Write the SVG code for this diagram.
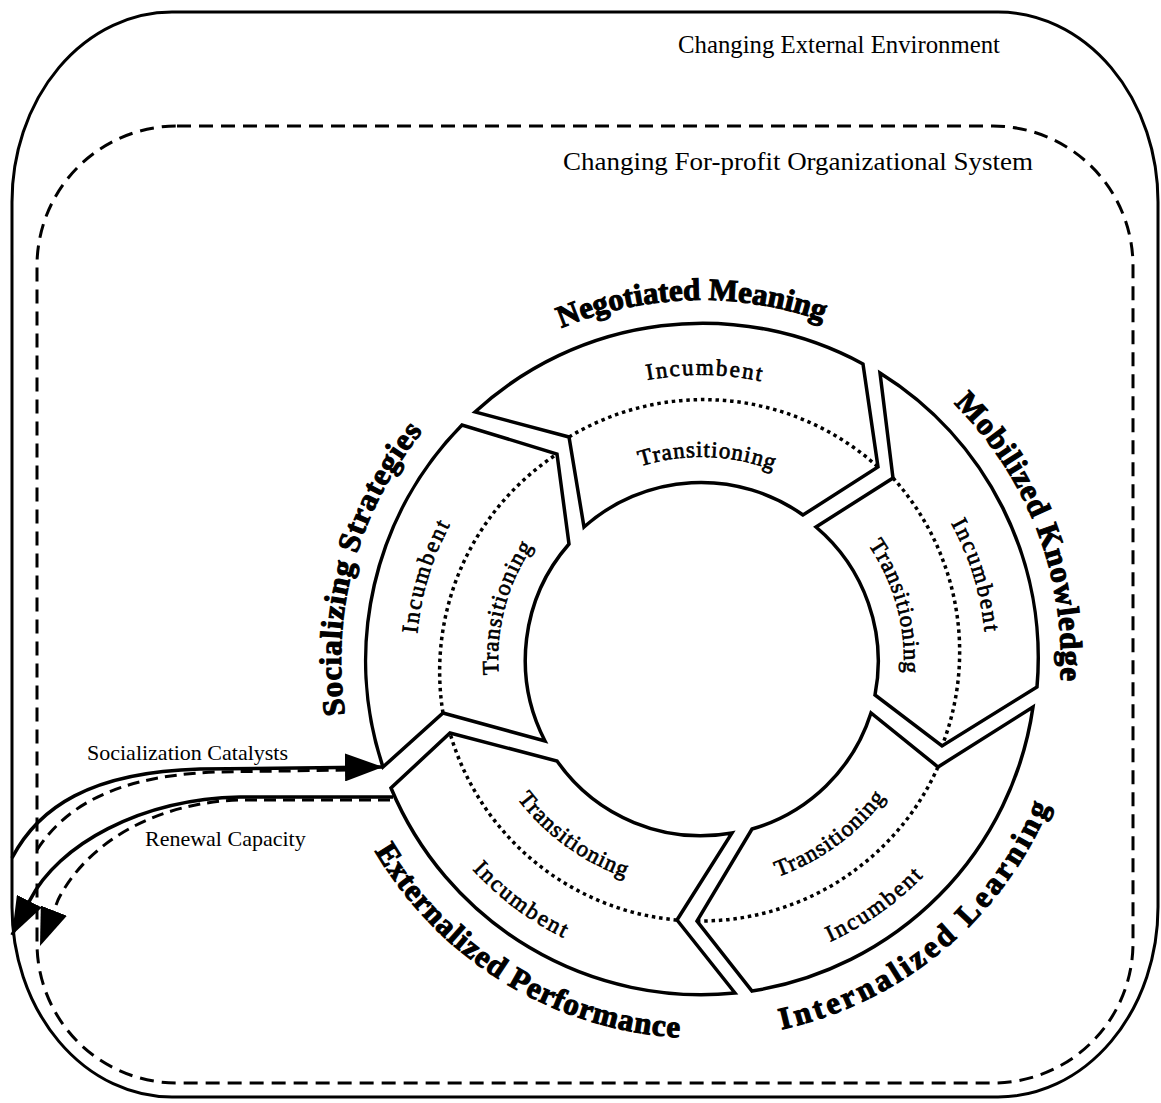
<svg xmlns="http://www.w3.org/2000/svg" width="1161" height="1103" viewBox="0 0 1161 1103">
  <defs>
    <style>
      .frame { fill: none; stroke: #000; stroke-width: 3; }
      .frame-dash { fill: none; stroke: #000; stroke-width: 3; stroke-dasharray: 14 8; }
      .segment { fill: #fff; stroke: #000; stroke-width: 3.5; stroke-linejoin: miter; }
      .divider { fill: none; stroke: #000; stroke-width: 3.5; stroke-dasharray: 3.5 3.8; }
      .flow { fill: none; stroke: #000; stroke-width: 3.5; }
      .flow-dash { fill: none; stroke: #000; stroke-width: 3; stroke-dasharray: 12 7; }
      .caption { font-family: "Liberation Serif", "Times New Roman", serif; fill: #000; }
      .frame-label { font-size: 26px; }
      .flow-label { font-size: 22px; }
      .ring-label { font-family: "Liberation Serif", "Times New Roman", serif; font-weight: bold; font-size: 31px; fill: #000; stroke: #000; stroke-width: 1.1; text-anchor: middle; }
      .band-label { font-family: "Liberation Serif", "Times New Roman", serif; font-size: 23px; fill: #000; stroke: #000; stroke-width: 0.7; text-anchor: middle; }
      .inc { letter-spacing: 2px; }
      .trn { letter-spacing: 1px; }
    </style>
    <marker id="arrowhead" markerUnits="userSpaceOnUse" viewBox="0 0 38 28" refX="38" refY="14" markerWidth="38" markerHeight="28" orient="auto">
      <path d="M0,0 L38,14 L0,28 Z" fill="#000"/>
    </marker>
    <!-- baseline circles around the ring centre (701,660) -->
    <path id="ringCw" d="M701,1020 A360,360 0 1 1 701,300 A360,360 0 1 1 701,1020"/>
    <path id="ringCcw" d="M701,282 A378,378 0 1 0 701,1038 A378,378 0 1 0 701,282"/>
    <path id="incCw" d="M701,945 A285,285 0 1 1 701,375 A285,285 0 1 1 701,945"/>
    <path id="trnCw" d="M701,863 A203,203 0 1 1 701,457 A203,203 0 1 1 701,863"/>
    <path id="incCcw" d="M701,350 A310,310 0 1 0 701,970 A310,310 0 1 0 701,350"/>
    <path id="trnCcw" d="M701,430 A230,230 0 1 0 701,890 A230,230 0 1 0 701,430"/>
  </defs>

  <rect width="1161" height="1103" fill="#fff"/>

  <g id="external-environment">
    <rect class="frame" x="12" y="12" width="1146" height="1085" rx="160" ry="190"/>
    <text class="caption frame-label" x="678" y="53" textLength="322" lengthAdjust="spacingAndGlyphs">Changing External Environment</text>
  </g>

  <g id="organizational-system">
    <rect class="frame-dash" x="37" y="126" width="1096" height="957" rx="140" ry="140"/>
    <text class="caption frame-label" x="563" y="170" textLength="470" lengthAdjust="spacingAndGlyphs">Changing For-profit Organizational System</text>
  </g>

  <g id="socializing-strategies">
    <path class="segment" d="M383,767 A336,336 0 0 1 462,425 L557,454 L569,544 A176,176 0 0 0 545,741 L443,713 Z"/>
    <path class="divider" d="M443,713 A260,260 0 0 1 557,454"/>
    <text class="ring-label" letter-spacing="1"><textPath href="#ringCw" startOffset="662">Socializing Strategies</textPath></text>
    <text class="band-label inc"><textPath href="#incCw" startOffset="532">Incumbent</textPath></text>
    <text class="band-label trn"><textPath href="#trnCw" startOffset="372">Transitioning</textPath></text>
  </g>

  <g id="negotiated-meaning">
    <path class="segment" d="M475,412 A336,336 0 0 1 863,364 L878,467 L803,515 A176,176 0 0 0 584,527 L569,437 Z"/>
    <path class="divider" d="M569,437 A260,260 0 0 1 878,467"/>
    <text class="ring-label"><textPath href="#ringCw" startOffset="1121">Negotiated Meaning</textPath></text>
    <text class="band-label inc"><textPath href="#incCw" startOffset="899">Incumbent</textPath></text>
    <text class="band-label trn"><textPath href="#trnCw" startOffset="644">Transitioning</textPath></text>
  </g>

  <g id="mobilized-knowledge">
    <path class="segment" d="M880,373 A336,336 0 0 1 1037,687 L942,746 L875,695 A176,176 0 0 0 816,527 L893,478 Z"/>
    <path class="divider" d="M893,478 A260,260 0 0 1 942,746"/>
    <text class="ring-label" letter-spacing="1"><textPath href="#ringCw" startOffset="1564">Mobilized Knowledge</textPath></text>
    <text class="band-label inc"><textPath href="#incCw" startOffset="1258">Incumbent</textPath></text>
    <text class="band-label trn"><textPath href="#trnCw" startOffset="902">Transitioning</textPath></text>
  </g>

  <g id="internalized-learning">
    <path class="segment" d="M1033,707 A336,336 0 0 1 752,991 L697,921 L752,829 A176,176 0 0 0 871,713 L938,767 Z"/>
    <path class="divider" d="M938,767 A260,260 0 0 1 697,921"/>
    <text class="ring-label" font-size="32" letter-spacing="3.5"><textPath href="#ringCcw" startOffset="1451">Internalized Learning</textPath></text>
    <text class="band-label inc"><textPath href="#incCcw" startOffset="1165">Incumbent</textPath></text>
    <text class="band-label trn"><textPath href="#trnCcw" startOffset="869">Transitioning</textPath></text>
  </g>

  <g id="externalized-performance">
    <path class="segment" d="M735,993 A336,336 0 0 1 391,788 L450,733 L557,761 A176,176 0 0 0 732,833 L677,920 Z"/>
    <path class="divider" d="M677,920 A260,260 0 0 1 450,733"/>
    <text class="ring-label" font-size="32" letter-spacing="1"><textPath href="#ringCcw" startOffset="980">Externalized Performance</textPath></text>
    <text class="band-label inc"><textPath href="#incCcw" startOffset="775">Incumbent</textPath></text>
    <text class="band-label trn"><textPath href="#trnCcw" startOffset="578">Transitioning</textPath></text>
  </g>

  <g id="connectors">
    <!-- socialization catalysts: inward flow to the socializing segment -->
    <path class="flow-dash" d="M37,850 C66,805 118,776 215,772 L350,770"/>
    <path class="flow" d="M12,858 C38,808 90,772 200,769 L383,767" marker-end="url(#arrowhead)"/>
    <!-- renewal capacity: outward flow back to both boundaries -->
    <path class="flow-dash" d="M390,800 L240,800 C160,802 88,840 58,900 L40,946" marker-end="url(#arrowhead)"/>
    <path class="flow" d="M393,797 L240,797 C140,799 58,845 30,900 L12,935" marker-end="url(#arrowhead)"/>
    <text class="caption flow-label" x="87" y="760">Socialization Catalysts</text>
    <text class="caption flow-label" x="145" y="846">Renewal Capacity</text>
  </g>
</svg>
